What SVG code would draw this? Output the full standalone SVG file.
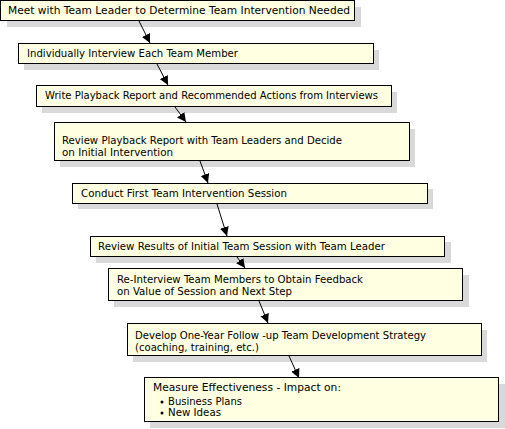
<svg xmlns="http://www.w3.org/2000/svg" width="505" height="429" viewBox="0 0 505 429">
<style>
.sh{fill:#d9d9d9}
.bx{fill:#ffffe1;stroke:#000;stroke-width:1}
text{font-family:"DejaVu Sans",Tahoma,sans-serif;font-size:10px;fill:#000}
.cn{stroke:#000;stroke-width:1;fill:none;marker-end:url(#ah)}
</style>
<defs>
<marker id="ah" viewBox="0 0 10 10" refX="10" refY="5" markerWidth="9" markerHeight="9" markerUnits="userSpaceOnUse" orient="auto">
<path d="M0,0 L10,5 L0,10 z" fill="#000"/>
</marker>
</defs>
<rect width="505" height="429" fill="#fff"/>
<g id="n1"><rect class="sh" x="7" y="7" width="354" height="20"/><rect class="bx" x="0.5" y="0.5" width="354" height="20"/><text x="8" y="14" textLength="342" lengthAdjust="spacingAndGlyphs">Meet with Team Leader to Determine Team Intervention Needed</text></g>
<g id="n2"><rect class="sh" x="24" y="50" width="355" height="20"/><rect class="bx" x="18.5" y="43.5" width="355" height="20"/><text x="27" y="57" textLength="211" lengthAdjust="spacingAndGlyphs">Individually Interview Each Team Member</text></g>
<g id="n3"><rect class="sh" x="42" y="92" width="355" height="21"/><rect class="bx" x="36.5" y="85.5" width="355" height="21"/><text x="45" y="99" textLength="333" lengthAdjust="spacingAndGlyphs">Write Playback Report and Recommended Actions from Interviews</text></g>
<g id="n4"><rect class="sh" x="60" y="129" width="355" height="38"/><rect class="bx" x="54.5" y="122.5" width="355" height="38"/><text x="62" y="144" textLength="280" lengthAdjust="spacingAndGlyphs">Review Playback Report with Team Leaders and Decide</text><text x="62" y="156" textLength="111" lengthAdjust="spacingAndGlyphs">on Initial Intervention</text></g>
<g id="n5"><rect class="sh" x="78" y="189" width="355" height="20"/><rect class="bx" x="72.5" y="183.5" width="355" height="20"/><text x="81" y="197" textLength="206" lengthAdjust="spacingAndGlyphs">Conduct First Team Intervention Session</text></g>
<g id="n6"><rect class="sh" x="96" y="242" width="355" height="21"/><rect class="bx" x="90.5" y="236.5" width="354" height="20"/><text x="98" y="250" textLength="287" lengthAdjust="spacingAndGlyphs">Review Results of Initial Team Session with Team Leader</text></g>
<g id="n7"><rect class="sh" x="114" y="275" width="355" height="32"/><rect class="bx" x="108.5" y="268.5" width="354" height="32"/><text x="117" y="283" textLength="246" lengthAdjust="spacingAndGlyphs">Re-Interview Team Members to Obtain Feedback</text><text x="117" y="295" textLength="175" lengthAdjust="spacingAndGlyphs">on Value of Session and Next Step</text></g>
<g id="n8"><rect class="sh" x="133" y="330" width="354" height="32"/><rect class="bx" x="127.5" y="323.5" width="354" height="32"/><text x="135" y="339" textLength="291" lengthAdjust="spacingAndGlyphs">Develop One-Year Follow -up Team Development Strategy</text><text x="135" y="351" textLength="124" lengthAdjust="spacingAndGlyphs">(coaching, training, etc.)</text></g>
<g id="n9"><rect class="sh" x="150" y="384" width="355" height="44"/><rect class="bx" x="144.5" y="377.5" width="354" height="44"/><text x="153" y="391" textLength="188" lengthAdjust="spacingAndGlyphs">Measure Effectiveness - Impact on:</text><circle cx="162" cy="402" r="1.5" fill="#000"/><text x="168" y="405" textLength="74" lengthAdjust="spacingAndGlyphs">Business Plans</text><circle cx="162" cy="413" r="1.5" fill="#000"/><text x="168" y="416" textLength="53" lengthAdjust="spacingAndGlyphs">New Ideas</text></g>
<g id="connectors">
<line class="cn" x1="139" y1="21" x2="150" y2="43"/>
<line class="cn" x1="157" y1="64" x2="168" y2="85"/>
<line class="cn" x1="175" y1="107" x2="186" y2="122"/>
<line class="cn" x1="200" y1="161" x2="208" y2="183"/>
<line class="cn" x1="217" y1="204" x2="227" y2="236"/>
<line class="cn" x1="237" y1="257" x2="245" y2="268"/>
<line class="cn" x1="259" y1="301" x2="268" y2="323"/>
<line class="cn" x1="289" y1="356" x2="299" y2="378"/>
</g>
</svg>
